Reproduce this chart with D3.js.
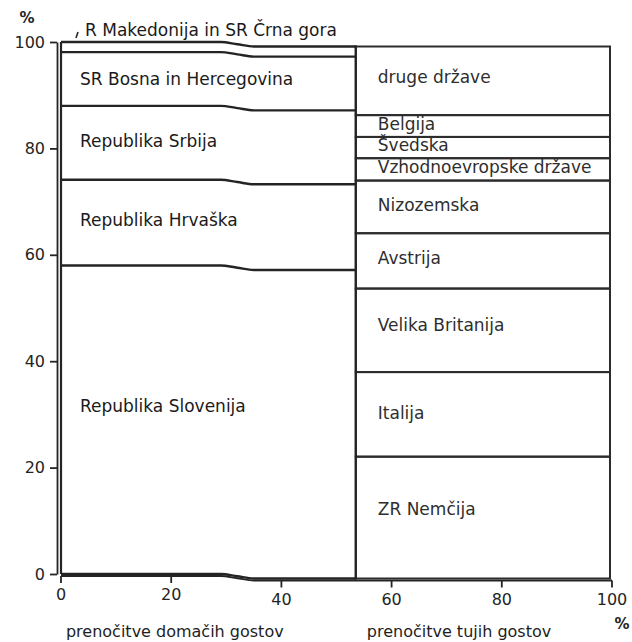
<!DOCTYPE html>
<html>
<head>
<meta charset="utf-8">
<script src="https://cdn.jsdelivr.net/npm/d3@7"></script>
<style>
  body { margin: 0; background: #fff; }
  svg { display: block; }
</style>
</head>
<body>
<div id="chart"></div>
<script>
// share of overnight stays, in %
const DOMESTIC_SHARE = 53.5   // width of the domestic column on the x axis
const domesticRegions = ['Republika Slovenija', 'Republika Hrvaška', 'Republika Srbija', 'SR Bosna in Hercegovina', 'R Makedonija in SR Črna gora']
const domesticValues = [58.0, 16.1, 13.9, 10.1, 1.9]
const foreignCountries = ['ZR Nemčija', 'Italija', 'Velika Britanija', 'Avstrija', 'Nizozemska', 'Vzhodnoevropske države', 'Švedska', 'Belgija', 'druge države']
const foreignValues = [22.9, 15.9, 15.7, 10.4, 9.9, 4.2, 4.0, 4.1, 12.9]
const xTicks = [0, 20, 40, 60, 80, 100]
const yTicks = [0, 20, 40, 60, 80, 100]
const xTitles = ['prenočitve domačih gostov', 'prenočitve tujih gostov']

// small vertical nudges of the labels (px)
const domesticDy = [-14, -3, -2, 0, 0]
const foreignDy = [-9, -1, -5, -3, -2, -3, -3, -2, -4]

const width = 632, height = 642
const INK = '#242424'
const FONT = '"DejaVu Sans", Arial, sans-serif'

const x = d3.scaleLinear().domain([0, 100]).range([61, 612])
const y = d3.scaleLinear().domain([0, 100]).range([574, 42])

// the scanned sheet is a little skewed: everything right of ~30 % sits a few px lower
const SAG = 4.5
function sag(v){
  if(v <= 29) return 0
  if(v >= 35) return SAG
  return SAG * d3.easeSinInOut((v - 29) / 6)
}

function stack(values){
  let acc = 0
  return values.map(v => { const d = {y0: acc, y1: acc + v}; acc += v; return d })
}

const svg = d3.select('#chart').append('svg')
  .attr('width', width)
  .attr('height', height)
  .attr('viewBox', [0, 0, width, height])

// y axis
const yAxis = svg.append('g')
  .attr('transform', `translate(${x(0) - 4},0)`)
  .call(d3.axisLeft(y).tickValues(yTicks).tickSize(7).tickPadding(5).tickSizeOuter(0))
yAxis.selectAll('path, line').attr('stroke', INK).attr('stroke-width', 1.8)
yAxis.selectAll('text').attr('fill', INK).attr('font-family', FONT).attr('font-size', 16)

// x axis (follows the skew)
const xAxis = svg.append('g')
  .attr('transform', `translate(0,${y(0) + 2})`)
  .call(d3.axisBottom(x).tickValues(xTicks).tickSize(7).tickPadding(6).tickSizeOuter(0))
xAxis.select('.domain').remove()
xAxis.selectAll('.tick').attr('transform', d => `translate(${x(d)},${sag(d)})`)
xAxis.selectAll('line').attr('stroke', INK).attr('stroke-width', 1.8)
xAxis.selectAll('text').attr('fill', INK).attr('font-family', FONT).attr('font-size', 16)

const sagPoints = [0, 27, 29, 32, 35, 37, 100]
const skewLine = d3.line()
  .x(d => x(d[0]))
  .y(d => d[1] + sag(d[0]))
  .curve(d3.curveMonotoneX)

xAxis.append('path')
  .attr('d', skewLine(sagPoints.map(p => [p, 0])))
  .attr('fill', 'none').attr('stroke', INK).attr('stroke-width', 1.8)

// domestic column
const domStack = stack(domesticValues)
const domX = sagPoints.filter(p => p < DOMESTIC_SHARE).concat([DOMESTIC_SHARE])
const boundaries = [0].concat(domStack.map(d => d.y1))

svg.append('g').selectAll('path').data(boundaries).enter().append('path')
  .attr('d', b => skewLine(domX.map(p => [p, y(b)])))
  .attr('fill', 'none')
  .attr('stroke', INK)
  .attr('stroke-width', 2.4)

svg.append('line')
  .attr('x1', x(0)).attr('x2', x(0))
  .attr('y1', y(0)).attr('y2', y(d3.sum(domesticValues)))
  .attr('stroke', INK).attr('stroke-width', 2.2)

const domLabels = svg.append('g')
  .attr('font-family', FONT)
  .attr('font-size', 17)
  .attr('fill', '#1a1a1a')

domStack.forEach((d, i) => {
  if(domesticValues[i] < 3){
    // too thin: label above the column with a small leader
    domLabels.append('text')
      .attr('x', x(0) + 24)
      .attr('y', y(d.y1) - 6)
      .text(domesticRegions[i])
    svg.append('line')
      .attr('x1', x(0) + 17).attr('x2', x(0) + 15)
      .attr('y1', y(d.y1) - 10).attr('y2', y(d.y1) - 4)
      .attr('stroke', INK).attr('stroke-width', 1.6)
  } else {
    domLabels.append('text')
      .attr('x', x(0) + 19)
      .attr('y', (y(d.y0) + y(d.y1)) / 2 + domesticDy[i])
      .attr('dy', '0.36em')
      .text(domesticRegions[i])
  }
})

// foreign column
const forStack = stack(foreignValues)
const forGroup = svg.append('g').attr('transform', `translate(0,${SAG})`)

forGroup.selectAll('rect').data(forStack).enter().append('rect')
  .attr('x', x(DOMESTIC_SHARE))
  .attr('width', x(100) - x(DOMESTIC_SHARE) - 2)
  .attr('y', d => y(d.y1))
  .attr('height', d => y(d.y0) - y(d.y1))
  .attr('fill', 'none')
  .attr('stroke', '#2c2c2c')
  .attr('stroke-width', 2)

forGroup.selectAll('text').data(forStack).enter().append('text')
  .attr('x', x(DOMESTIC_SHARE) + 22)
  .attr('y', (d, i) => (y(d.y0) + y(d.y1)) / 2 + foreignDy[i])
  .attr('dy', '0.36em')
  .attr('font-family', FONT)
  .attr('font-size', 17)
  .attr('fill', '#2e2e2e')
  .text((d, i) => foreignCountries[i])

// divider between the two columns
svg.append('line')
  .attr('x1', x(DOMESTIC_SHARE)).attr('x2', x(DOMESTIC_SHARE))
  .attr('y1', y(100) + SAG - 1).attr('y2', y(0) + SAG + 1)
  .attr('stroke', INK).attr('stroke-width', 2.2)

// unit marks and axis titles
svg.append('text')
  .attr('x', 27).attr('y', 23)
  .attr('text-anchor', 'middle')
  .attr('font-family', FONT).attr('font-size', 15).attr('font-weight', 'bold')
  .attr('fill', INK)
  .text('%')

svg.append('text')
  .attr('x', 622).attr('y', 629)
  .attr('text-anchor', 'middle')
  .attr('font-family', FONT).attr('font-size', 15).attr('font-weight', 'bold')
  .attr('fill', INK)
  .text('%')

svg.selectAll('.xtitle').data(xTitles).enter().append('text')
  .attr('class', 'xtitle')
  .attr('x', (d, i) => i == 0 ? x(0.9) : x(DOMESTIC_SHARE + 2))
  .attr('y', 637)
  .attr('font-family', FONT)
  .attr('font-size', 16)
  .attr('fill', '#1e1e1e')
  .text(d => d)
</script>
</body>
</html>
